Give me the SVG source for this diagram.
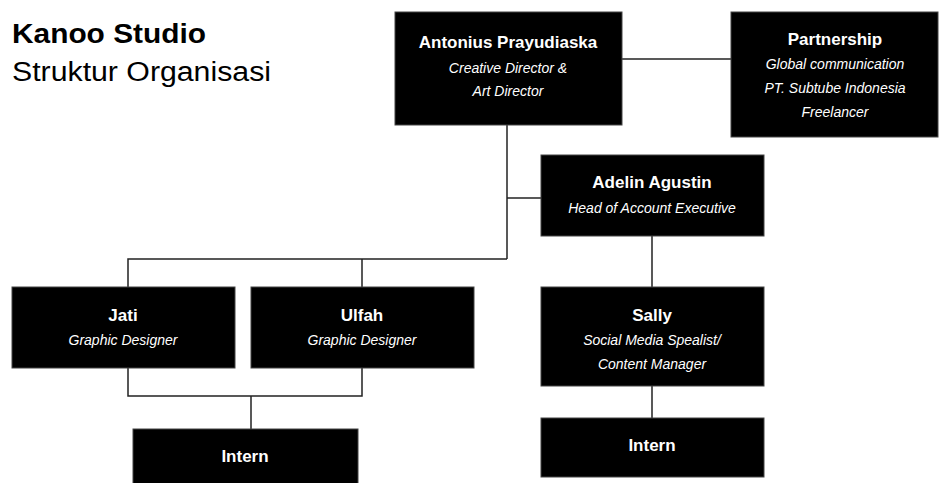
<svg xmlns="http://www.w3.org/2000/svg" width="941" height="483" viewBox="0 0 941 483">
<style>
.box{fill:#000;stroke:#444;stroke-width:1}
.n{font-family:"Liberation Sans",Arial,sans-serif;font-weight:bold;font-size:17px;fill:#fff;text-anchor:middle}
.r{font-family:"Liberation Sans",Arial,sans-serif;font-style:italic;font-size:14px;fill:#fff;text-anchor:middle}
.c{fill:none;stroke:#222;stroke-width:1.5}
.t{font-family:"Liberation Sans",Arial,sans-serif;font-size:27px;fill:#000}
</style>
<rect width="941" height="483" fill="#fff"/>
<g id="title">
<text class="t" x="12" y="43" font-weight="bold" textLength="194" lengthAdjust="spacingAndGlyphs">Kanoo Studio</text>
<text class="t" x="12" y="81" textLength="259" lengthAdjust="spacingAndGlyphs">Struktur Organisasi</text>
</g>
<g id="connectors">
<path class="c" d="M622 59H731"/>
<path class="c" d="M507 125V259"/>
<path class="c" d="M507 198H541"/>
<path class="c" d="M128 287V259H507"/>
<path class="c" d="M362 259V287"/>
<path class="c" d="M652 236V287"/>
<path class="c" d="M128 368V396H362V368"/>
<path class="c" d="M251 396V429"/>
<path class="c" d="M652 386V418"/>
</g>
<g id="antonius">
<rect class="box" x="395" y="12" width="227" height="113"/>
<text class="n" x="508" y="48">Antonius Prayudiaska</text>
<text class="r" x="508" y="73">Creative Director &amp;</text>
<text class="r" x="508" y="96">Art Director</text>
</g>
<g id="partnership">
<rect class="box" x="731" y="12" width="207" height="125"/>
<text class="n" x="835" y="45">Partnership</text>
<text class="r" x="835" y="69">Global communication</text>
<text class="r" x="835" y="93">PT. Subtube Indonesia</text>
<text class="r" x="835" y="117">Freelancer</text>
</g>
<g id="adelin">
<rect class="box" x="541" y="155" width="223" height="81"/>
<text class="n" x="652" y="188">Adelin Agustin</text>
<text class="r" x="652" y="213">Head of Account Executive</text>
</g>
<g id="jati">
<rect class="box" x="12" y="287" width="223" height="81"/>
<text class="n" x="123" y="321">Jati</text>
<text class="r" x="123" y="345">Graphic Designer</text>
</g>
<g id="ulfah">
<rect class="box" x="251" y="287" width="223" height="81"/>
<text class="n" x="362" y="321">Ulfah</text>
<text class="r" x="362" y="345">Graphic Designer</text>
</g>
<g id="sally">
<rect class="box" x="541" y="287" width="223" height="99"/>
<text class="n" x="652" y="321">Sally</text>
<text class="r" x="652" y="345">Social Media Spealist/</text>
<text class="r" x="652" y="369">Content Manager</text>
</g>
<g id="intern1">
<rect class="box" x="133" y="429" width="225" height="60"/>
<text class="n" x="245" y="462">Intern</text>
</g>
<g id="intern2">
<rect class="box" x="541" y="418" width="223" height="59"/>
<text class="n" x="652" y="451">Intern</text>
</g>
</svg>
